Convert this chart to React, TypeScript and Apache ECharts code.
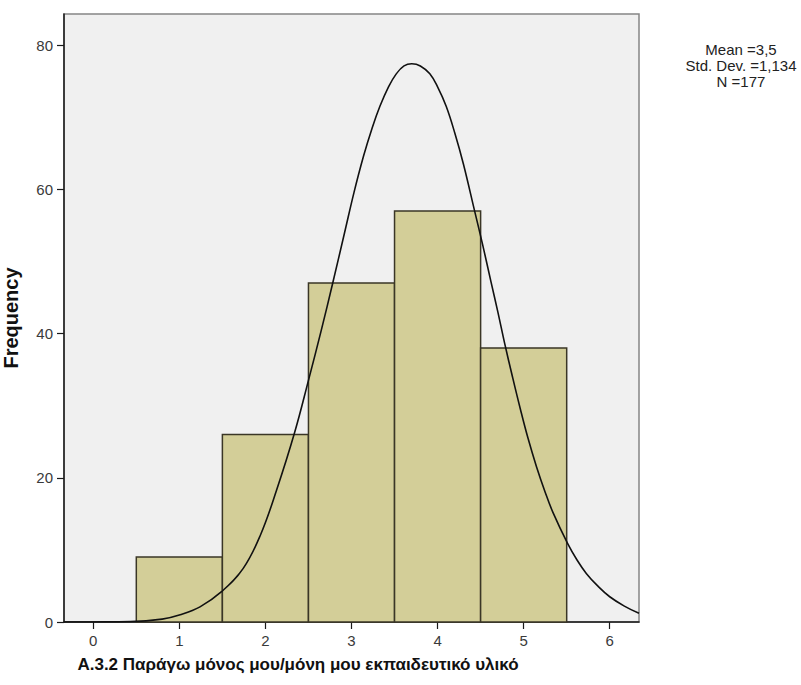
import React, { useEffect, useRef } from "react";
import * as echarts from "echarts";

const binCenters = [1, 2, 3, 4, 5];
const frequencies = [9, 26, 47, 57, 38];
const curveX = [-0.34, 0, 0.43, 0.8, 1.01, 1.24, 1.49, 1.74, 1.94, 2.13, 2.34, 2.5, 2.65, 2.78, 2.92, 3.03, 3.14, 3.24, 3.33, 3.43, 3.52, 3.61, 3.7, 3.8, 3.91, 4.0, 4.1, 4.2, 4.3, 4.43, 4.52, 4.62, 4.7, 4.78, 4.87, 4.96, 5.05, 5.15, 5.25, 5.34, 5.51, 5.62, 5.73, 5.86, 6.0, 6.17, 6.34];
const curveY = [0, 0.01, 0.05, 0.4, 1.0, 2.1, 4.2, 7.4, 12.0, 18.3, 26.3, 33.5, 40.5, 46.9, 54.0, 59.6, 64.6, 68.5, 71.5, 74.2, 76.0, 77.1, 77.4, 77.1, 76.0, 74.2, 71.5, 67.8, 63.5, 57.0, 52.5, 47.2, 43.0, 38.6, 34.0, 29.6, 25.5, 21.5, 18.0, 15.2, 10.9, 8.6, 6.7, 5.0, 3.5, 2.2, 1.2];
const xTicks = [0, 1, 2, 3, 4, 5, 6];
const yTicks = [0, 20, 40, 60, 80];
const statsLines = ["Mean =3,5", "Std. Dev. =1,134", "N =177"];
const xTitle = "A.3.2 Παράγω μόνος μου/μόνη μου εκπαιδευτικό υλικό";
const yTitle = "Frequency";

const FONT = "'Liberation Sans', Arial, sans-serif";

export default function App() {
  const ref = useRef<HTMLDivElement>(null);
  useEffect(() => {
    document.body.style.margin = "0";
    const chart = echarts.init(ref.current!, null, { renderer: "svg" });
    const barData = binCenters.map((c, i) => [c, frequencies[i]]);
    const curveData = curveX.map((x, i) => [x, curveY[i]]);
    chart.setOption({
      animation: false,
      textStyle: { fontFamily: FONT },
      grid: {
        left: 64,
        right: 162,
        top: 14,
        bottom: 63,
        containLabel: false,
        outerBoundsMode: "none",
        show: true,
        backgroundColor: "#f0f0f0",
        borderColor: "#858585",
        borderWidth: 1.5,
      },
      xAxis: {
        type: "value",
        min: -0.34,
        max: 6.34,
        splitLine: { show: false },
        axisLine: { show: true, onZero: false, lineStyle: { color: "#1a1a1a", width: 1.5 } },
        axisTick: { show: true, length: 7, lineStyle: { color: "#1a1a1a", width: 1.2 }, customValues: xTicks },
        axisLabel: { color: "#3a3a3a", fontSize: 15, fontFamily: FONT, margin: 11, customValues: xTicks },
      },
      yAxis: {
        type: "value",
        min: 0,
        max: 84.3,
        splitLine: { show: false },
        axisLine: { show: true, onZero: false, lineStyle: { color: "#1a1a1a", width: 1.5 } },
        axisTick: { show: true, length: 7, lineStyle: { color: "#1a1a1a", width: 1.2 }, customValues: yTicks },
        axisLabel: { color: "#3a3a3a", fontSize: 15, fontFamily: FONT, margin: 11, customValues: yTicks },
        name: yTitle,
        nameLocation: "middle",
        nameGap: 43,
        nameTextStyle: { color: "#111", fontSize: 20, fontWeight: "bold", fontFamily: FONT },
      },
      series: [
        {
          type: "custom",
          data: barData,
          renderItem: (params: any, api: any) => {
            const c = api.value(0);
            const v = api.value(1);
            const tl = api.coord([c - 0.5, v]);
            const br = api.coord([c + 0.5, 0]);
            return {
              type: "rect",
              shape: { x: tl[0], y: tl[1], width: br[0] - tl[0], height: br[1] - tl[1] },
              style: { fill: "#d3ce98", stroke: "#3a3626", lineWidth: 1.5 },
            };
          },
          z: 2,
        },
        {
          type: "line",
          data: curveData,
          smooth: 0.4,
          showSymbol: false,
          symbol: "none",
          lineStyle: { color: "#111", width: 1.6 },
          z: 3,
        },
      ],
      graphic: [
        {
          type: "text",
          x: 298,
          y: 664,
          style: {
            text: xTitle,
            fill: "#111",
            font: `bold 17px ${FONT}`,
            align: "center",
            verticalAlign: "middle",
          },
        },
        {
          type: "text",
          x: 741,
          y: 41,
          style: {
            text: statsLines.join("\n"),
            fill: "#222",
            font: `15px ${FONT}`,
            lineHeight: 16,
            align: "center",
          },
        },
      ],
    });
    return () => chart.dispose();
  }, []);
  return <div ref={ref} style={{ width: 801, height: 685 }} />;
}
